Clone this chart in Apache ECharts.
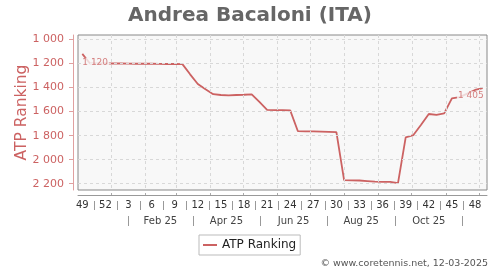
<!DOCTYPE html>
<html><head><meta charset="utf-8">
<script src="https://cdn.jsdelivr.net/npm/echarts@6/dist/echarts.min.js"></script>
<style>html,body{margin:0;padding:0;background:#fff}#c{width:500px;height:270px}</style>
</head><body><div id="c"></div>
<script>
const chartTitle = 'Andrea Bacaloni (ITA)';
const seriesName = 'ATP Ranking';
const credit = '\u00A9 www.coretennis.net, 12-03-2025';
// weekly ATP ranking, week 49/2024 (index 0) .. week 49/2025 (index 52)
const rankings = [1120,1200,1200,1200,1200,1200,1201,1202,1202,1202,1203,1204,1204,1205,
  1290,1370,1415,1455,1462,1465,1462,1460,1457,1520,1585,1588,1588,1590,
  1763,1765,1765,1766,1768,1770,2170,2172,2173,2178,2183,2185,2185,2195,
  1815,1795,1710,1620,1628,1615,1490,1480,1450,1420,1405];
const weekLabels = ['49','52','3','6','9','12','15','18','21','24','27','30','33','36','39','42','45','48'];
const weekLabelIdx = [0,3,6,9,12,15,18,21,24,27,30,33,36,39,42,45,48,51];
const monthLabels = ['Feb 25','Apr 25','Jun 25','Aug 25','Oct 25'];
const monthSepDates = ['2025-01-16','2025-03-16','2025-05-16','2025-07-16','2025-09-16','2025-11-16'];
const monthStartDates = ['2025-01-01','2025-02-01','2025-03-01','2025-04-01','2025-05-01','2025-06-01',
  '2025-07-01','2025-08-01','2025-09-01','2025-10-01','2025-11-01','2025-12-01'];
const yTicks = [1000,1200,1400,1600,1800,2000,2200];

const base = Date.UTC(2024,11,5,12);
const wk = s => (Date.parse(s+'T00:00:00Z') - base) / (7*864e5);
const monthStarts = monthStartDates.map(wk);
const monthSeps = monthSepDates.map(wk);
const monthCenters = monthLabels.map((_,i)=> (monthSeps[i]+monthSeps[i+1])/2);
const weekSeps = weekLabelIdx.slice(0,-1).map(v=>v+1.5);
const XMIN = -0.56, XMAX = 52.56;
const fmtNum = v => String(Math.round(v)).replace(/\B(?=(\d{3})+(?!\d))/g,' ');
const near = (arr, v) => arr.findIndex(a => Math.abs(a - v) < 1e-6);

const red = '#cc6262';
const font = 'DejaVu Sans';
const chart = echarts.init(document.getElementById('c'), null, {renderer:'canvas'});
const last = rankings.length - 1;
const gridLineStyle = {type:[3,3],color:'#d8d8d8',width:1};
chart.setOption({
  animation:false,
  textStyle:{fontFamily:font},
  title:{text:chartTitle,left:'center',top:1,textStyle:{fontSize:20,fontWeight:'bold',color:'#666',fontFamily:font}},
  grid:{left:78,right:13,top:35,bottom:80,show:true,borderColor:'#888',borderWidth:1,backgroundColor:'#f8f8f8'},
  legend:{left:199,top:235,padding:[4,4,4,4],borderColor:'#bbb',borderWidth:1,backgroundColor:'#fff',
    itemWidth:14,itemHeight:2,data:[{name:seriesName,icon:'rect'}],textStyle:{fontSize:12,color:'#222',fontFamily:font}},
  graphic:[{type:'text',right:12,top:259,style:{text:credit,fontSize:9.5,fill:'#555',fontFamily:font}}],
  xAxis:[
    {type:'value',min:XMIN,max:XMAX,position:'bottom',offset:5,
      axisLine:{show:true,onZero:false,lineStyle:{color:'#999'}},
      axisTick:{show:true,inside:true,length:2,customValues:monthStarts,lineStyle:{color:'#aaa'}},
      axisLabel:{show:false},
      splitLine:{show:false}},
    {type:'value',min:XMIN,max:XMAX,position:'bottom',offset:11,
      axisLine:{show:false,onZero:false},
      axisTick:{show:true,length:9,customValues:weekSeps,lineStyle:{color:'#999'}},
      axisLabel:{show:true,customValues:weekLabelIdx,margin:4,verticalAlign:'middle',fontSize:10,color:'#333',
        formatter:v=>weekLabels[near(weekLabelIdx,v)]},
      splitLine:{show:false}},
    {type:'value',min:XMIN,max:XMAX,position:'bottom',offset:26,
      axisLine:{show:false,onZero:false},
      axisTick:{show:true,length:10,customValues:monthSeps,lineStyle:{color:'#999'}},
      axisLabel:{show:true,customValues:monthCenters,margin:5,verticalAlign:'middle',fontSize:10,color:'#444',
        formatter:v=>monthLabels[near(monthCenters,v)]},
      splitLine:{show:false}}
  ],
  yAxis:{type:'value',inverse:true,min:963,max:2252,offset:5,position:'left',
    name:seriesName,nameLocation:'middle',nameGap:43,nameRotate:90,nameMoveOverlap:false,
    nameTextStyle:{fontSize:15.5,color:red,fontFamily:font},
    axisLine:{show:true,onZero:false,lineStyle:{color:'#e0a0a0'}},
    axisTick:{show:true,length:4,customValues:yTicks,lineStyle:{color:'#e0a0a0'}},
    axisLabel:{customValues:yTicks,margin:9,fontSize:11,color:red,formatter:fmtNum},
    splitLine:{show:false}},
  series:[
    {name:'grid',type:'line',data:[],z:1,silent:true,
      markLine:{silent:true,symbol:'none',label:{show:false},lineStyle:gridLineStyle,
        emphasis:{disabled:true},
        data:[...monthStarts.map(v=>({xAxis:v})),...yTicks.map(v=>({yAxis:v}))]}},
    {name:seriesName,type:'line',data:rankings.map((v,i)=>[i,v]),showSymbol:false,symbol:'none',
      lineStyle:{width:1.8,color:red},itemStyle:{color:red},z:3},
    {name:'labels',type:'scatter',symbolSize:0,silent:true,z:5,
      data:[
        {value:[0,rankings[0]],label:{show:true,position:[-1,9],align:'left',verticalAlign:'middle'}},
        {value:[last,rankings[last]],label:{show:true,position:[2,8],align:'right',verticalAlign:'middle'}}
      ],
      label:{formatter:p=>fmtNum(p.value[1]),fontSize:9,color:red,backgroundColor:'#f8f8f8',padding:[1,1,0,1],fontFamily:font}}
  ]
});
</script></body></html>
